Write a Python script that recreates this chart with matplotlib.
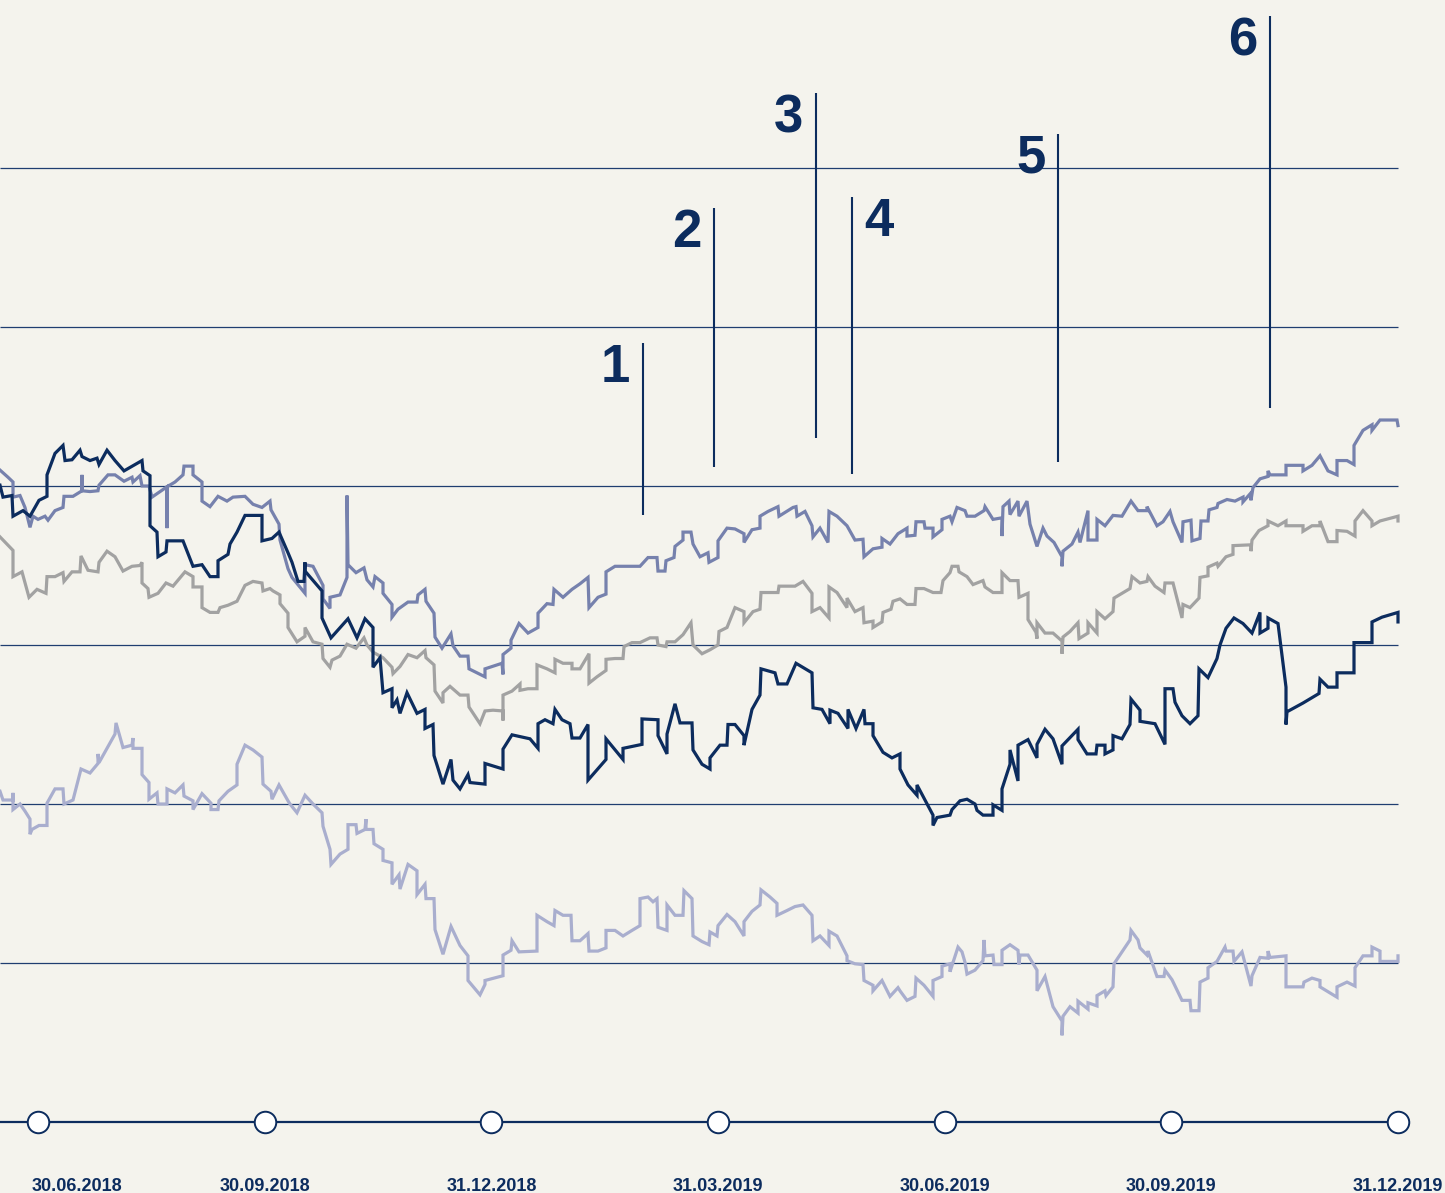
import numpy as np
import matplotlib.pyplot as plt

# day offsets from 30.06.2018 (one axis quarter = 90.67 days) and index levels
dark = [(-15.2, 120.1), (-14.0, 118.6), (-10.4, 118.8), (-10.0, 116.2), (-6.0, 116.9), (-3.2, 116.2),
        (0.4, 118.2), (3.6, 118.7), (3.6, 121.4), (6.8, 124.1), (10.0, 125.1), (10.8, 123.2),
        (13.6, 123.3), (16.8, 124.5), (17.6, 123.7), (20.8, 123.2), (23.6, 123.5), (24.4, 122.7),
        (27.6, 124.5), (30.8, 123.2), (34.4, 121.9), (41.6, 123.2), (42.0, 121.9), (44.8, 121.3),
        (44.8, 115.0), (47.6, 114.2), (48.0, 111.1), (51.2, 111.7), (51.6, 113.1), (58.0, 113.1),
        (62.0, 109.9), (65.6, 110.1), (68.8, 108.6), (72.0, 108.6), (72.0, 110.6), (76.0, 111.4),
        (76.8, 112.7), (79.6, 114.2), (82.8, 116.3), (89.6, 116.3), (89.6, 113.1), (93.6, 113.4),
        (96.4, 114.2), (100.0, 111.6), (101.6, 110.4), (104.0, 108.0), (106.4, 108.0), (106.8, 110.4),
        (106.8, 109.3), (113.6, 106.8), (113.6, 103.4), (117.2, 100.9), (124.0, 103.3), (127.6, 100.9),
        (130.8, 103.3), (134.0, 102.2), (134.0, 97.2), (136.8, 98.4), (138.0, 94.0), (141.6, 94.5),
        (141.6, 92.1), (143.6, 93.1), (144.8, 91.4), (147.6, 94.0), (151.6, 91.4), (154.8, 91.9),
        (154.8, 89.5), (158.0, 90.0), (158.4, 86.1), (162.0, 82.5), (165.2, 85.6), (166.0, 83.0),
        (168.8, 81.9), (172.0, 83.7), (172.8, 82.7), (178.8, 82.5), (178.8, 85.1), (186.0, 84.4),
        (186.0, 86.9), (189.6, 88.7), (196.8, 88.2), (200.0, 87.0), (200.0, 90.1), (202.8, 90.6),
        (206.0, 90.1), (206.8, 91.9), (209.6, 90.6), (212.8, 90.1), (213.6, 88.3), (216.8, 88.3),
        (220.0, 90.0), (220.0, 83.0), (227.2, 85.6), (227.2, 88.2), (234.0, 85.6), (234.0, 87.0),
        (241.6, 87.5), (241.6, 90.7), (248.0, 90.6), (248.0, 88.6), (251.6, 86.3), (251.6, 88.8),
        (254.8, 92.6), (256.8, 90.2), (261.6, 90.2), (262.0, 86.8), (265.6, 85.0), (268.8, 84.4),
        (268.8, 85.8), (272.8, 87.4), (275.6, 87.4), (276.0, 90.0), (278.8, 90.0), (282.4, 88.6),
        (282.4, 87.4), (285.6, 91.9), (288.8, 93.7), (289.2, 97.0), (294.8, 96.5), (296.0, 95.1),
        (299.6, 95.1), (303.2, 97.7), (309.6, 96.5), (310.0, 92.1), (313.6, 91.9), (316.8, 90.1),
        (316.8, 91.8), (320.0, 91.4), (324.0, 89.5), (324.0, 91.9), (327.2, 89.5), (330.4, 91.9),
        (330.8, 90.1), (334.0, 90.1), (334.0, 88.6), (338.0, 86.5), (341.6, 85.8), (344.8, 86.3),
        (344.8, 84.4), (348.0, 82.4), (351.6, 81.1), (351.6, 82.4), (358.0, 78.6), (358.0, 77.3),
        (359.6, 78.3), (364.8, 78.6), (365.6, 79.3), (368.8, 80.4), (371.6, 80.6), (374.8, 80.0),
        (375.6, 79.2), (378.0, 78.6), (382.0, 78.6), (382.0, 79.9), (385.6, 79.2), (385.6, 81.9),
        (388.8, 85.0), (388.8, 86.8), (392.0, 82.9), (392.0, 87.4), (396.0, 88.1), (399.6, 85.8),
        (399.6, 87.5), (402.8, 89.4), (406.0, 88.2), (409.6, 85.0), (409.6, 87.3), (416.0, 89.4),
        (416.0, 88.1), (419.6, 86.3), (423.2, 86.3), (423.6, 87.4), (426.8, 87.4), (426.8, 86.3),
        (430.0, 86.8), (430.0, 88.6), (433.6, 88.2), (436.8, 90.0), (437.2, 93.2), (440.8, 91.8),
        (440.8, 90.4), (446.8, 90.1), (450.8, 87.5), (450.8, 94.5), (454.0, 94.5), (454.8, 92.8),
        (457.6, 91.1), (460.8, 90.1), (464.0, 91.1), (464.4, 97.0), (468.0, 95.9), (471.6, 98.3),
        (472.8, 100.0), (475.2, 102.1), (478.4, 103.4), (482.0, 102.7), (485.6, 101.5), (488.8, 104.1),
        (488.8, 101.5), (492.0, 102.1), (492.0, 103.4), (496.0, 102.7), (499.2, 94.7), (499.2, 90.0),
        (499.6, 91.6), (506.0, 92.7), (512.4, 93.9), (512.8, 95.7), (516.0, 94.7), (519.6, 94.7),
        (519.6, 96.5), (526.4, 96.5), (526.4, 100.3), (533.6, 100.3), (533.6, 102.9), (537.6, 103.5),
        (544.0, 104.1), (544.0, 102.9)]

mid = [(-15.2, 122.0), (-12.0, 121.1), (-10.0, 120.5), (-10.0, 118.6), (-7.2, 118.8), (-5.2, 117.3),
       (-3.2, 114.8), (-2.0, 116.2), (0.0, 115.8), (2.8, 116.2), (4.0, 115.7), (6.8, 116.9),
       (10.0, 117.3), (10.4, 118.7), (14.0, 118.7), (17.6, 119.4), (17.6, 121.4), (17.6, 119.4),
       (20.8, 119.3), (24.0, 119.4), (24.4, 120.1), (28.0, 121.4), (30.8, 121.4), (34.4, 120.6),
       (37.6, 121.1), (38.0, 120.5), (40.8, 121.3), (41.6, 120.0), (44.4, 120.0), (45.6, 118.6),
       (51.6, 119.9), (51.6, 114.7), (51.6, 119.9), (54.8, 120.5), (58.0, 121.4), (58.4, 122.5),
       (62.0, 122.5), (62.0, 121.4), (65.6, 120.5), (65.6, 118.1), (68.8, 117.4), (72.0, 118.7),
       (75.6, 118.1), (78.0, 118.6), (82.8, 118.7), (86.0, 117.7), (89.6, 117.3), (92.8, 118.1),
       (93.2, 117.0), (96.4, 115.2), (96.8, 113.2), (100.0, 109.6), (101.6, 108.5), (106.8, 106.5),
       (106.8, 110.1), (110.0, 109.9), (114.0, 107.5), (114.0, 105.8), (116.8, 104.6), (116.8, 106.0),
       (120.8, 106.3), (123.6, 108.5), (123.6, 118.8), (124.0, 110.1), (127.2, 109.1), (130.4, 109.7),
       (131.6, 108.2), (134.0, 107.3), (134.8, 108.6), (138.0, 107.8), (138.0, 106.5), (141.6, 105.1),
       (141.6, 103.5), (144.0, 104.5), (148.0, 105.4), (151.6, 105.4), (152.0, 106.3), (154.8, 107.0),
       (155.2, 105.5), (158.4, 104.0), (158.8, 101.0), (161.6, 99.6), (165.2, 101.4), (166.0, 99.9),
       (168.8, 98.6), (172.0, 98.6), (172.4, 97.0), (178.8, 96.0), (178.8, 97.0), (185.6, 97.7),
       (186.0, 96.3), (186.0, 98.8), (189.2, 99.6), (189.2, 100.6), (192.4, 102.7), (196.0, 101.5),
       (200.0, 102.2), (200.0, 104.0), (203.6, 105.2), (206.0, 105.1), (206.4, 107.0), (210.0, 106.0),
       (213.6, 107.0), (216.8, 107.7), (220.0, 108.5), (220.4, 104.7), (224.0, 106.0), (227.2, 106.4),
       (227.2, 109.2), (230.8, 109.9), (240.8, 109.9), (244.0, 111.0), (247.6, 111.0), (248.0, 109.3),
       (250.8, 109.3), (251.2, 110.6), (254.4, 111.0), (254.8, 112.4), (258.0, 113.2), (258.0, 114.2),
       (261.2, 114.2), (262.0, 112.7), (264.8, 111.1), (268.0, 111.6), (268.4, 110.4), (272.0, 111.0),
       (272.0, 113.1), (275.6, 114.7), (278.8, 114.6), (282.4, 114.0), (282.4, 112.9), (285.6, 114.5),
       (288.8, 114.7), (288.8, 116.2), (292.0, 116.8), (296.0, 117.4), (296.4, 116.2), (302.0, 117.3),
       (303.2, 117.4), (303.6, 116.2), (306.8, 116.8), (309.6, 115.0), (310.0, 113.6), (312.8, 114.7),
       (316.0, 112.9), (316.4, 116.8), (319.6, 116.2), (323.6, 115.0), (326.8, 113.2), (330.0, 113.3),
       (330.4, 111.1), (334.0, 112.1), (337.6, 112.3), (337.6, 113.4), (340.8, 112.7), (344.0, 114.0),
       (347.6, 114.7), (347.6, 113.7), (350.8, 113.8), (351.2, 115.5), (354.4, 115.5), (354.8, 114.7),
       (358.0, 114.7), (358.0, 113.6), (361.6, 114.5), (361.6, 115.8), (364.8, 116.2), (365.6, 115.5),
       (367.6, 117.3), (370.8, 116.9), (371.6, 116.2), (374.8, 116.2), (378.4, 116.9), (378.8, 117.4),
       (382.0, 115.8), (385.6, 116.0), (385.6, 113.7), (386.0, 117.4), (388.4, 118.1), (388.8, 116.4),
       (392.0, 118.1), (392.4, 116.2), (395.6, 118.1), (396.8, 115.2), (399.6, 112.4), (402.0, 114.7),
       (403.6, 113.7), (406.4, 112.9), (409.6, 111.1), (409.6, 109.9), (410.0, 111.8), (413.6, 112.7),
       (416.0, 114.2), (416.8, 112.9), (420.0, 116.9), (420.0, 113.2), (423.6, 113.2), (423.6, 115.8),
       (426.8, 115.0), (430.0, 116.3), (433.6, 116.2), (437.2, 118.1), (440.0, 116.9), (443.6, 116.9),
       (443.6, 117.4), (447.6, 115.0), (450.0, 115.5), (452.8, 116.8), (454.0, 115.5), (457.6, 112.9),
       (458.0, 115.5), (461.2, 115.7), (461.6, 113.1), (464.8, 113.4), (465.2, 115.6), (468.0, 115.6),
       (468.4, 117.0), (471.6, 117.3), (472.0, 117.8), (475.6, 118.3), (478.8, 118.1), (482.0, 118.6),
       (482.0, 118.0), (484.8, 119.0), (485.2, 118.2), (486.0, 119.8), (488.8, 120.9), (492.0, 121.2),
       (492.0, 121.9), (492.8, 121.4), (499.2, 121.4), (499.2, 122.6), (506.0, 122.6), (506.0, 121.9),
       (509.6, 122.6), (512.8, 123.8), (516.0, 121.9), (519.6, 121.4), (519.6, 123.2), (523.6, 123.2),
       (526.4, 122.7), (526.4, 125.1), (530.0, 127.0), (533.6, 127.7), (533.6, 127.0), (536.8, 128.3),
       (543.6, 128.3), (544.0, 127.6)]

grey = [(-15.2, 113.6), (-10.0, 111.9), (-10.0, 108.6), (-6.4, 109.2), (-3.6, 106.0), (-0.4, 107.0),
        (3.2, 106.5), (3.6, 108.6), (6.8, 108.6), (10.0, 109.1), (10.4, 108.0), (13.6, 109.2),
        (16.8, 109.2), (17.2, 111.2), (20.0, 109.4), (24.0, 109.2), (24.4, 110.4), (27.6, 111.8),
        (30.8, 111.1), (34.0, 109.3), (37.6, 109.9), (40.8, 110.0), (41.6, 110.4), (41.6, 107.8),
        (44.0, 107.1), (44.4, 106.0), (48.0, 106.5), (51.2, 107.8), (54.0, 107.4), (58.8, 109.2),
        (62.0, 108.6), (62.0, 107.3), (65.6, 107.3), (65.6, 104.7), (68.8, 104.1), (72.0, 104.1),
        (72.8, 104.7), (76.0, 105.0), (79.6, 105.5), (82.8, 107.5), (86.0, 108.0), (89.6, 107.8),
        (90.0, 106.8), (92.8, 107.1), (94.0, 106.8), (96.8, 106.3), (96.8, 105.2), (100.0, 104.0),
        (100.0, 102.2), (103.6, 100.4), (106.8, 101.1), (106.8, 102.2), (110.0, 100.4), (113.6, 100.1),
        (114.0, 98.3), (116.8, 97.2), (117.6, 98.1), (120.8, 98.6), (123.6, 100.1), (127.2, 99.6),
        (130.4, 100.9), (131.6, 100.0), (134.0, 99.1), (138.0, 98.4), (141.6, 97.2), (142.0, 96.4),
        (144.8, 97.3), (148.0, 98.8), (151.6, 98.4), (154.8, 99.3), (155.2, 98.4), (158.4, 97.5),
        (158.8, 94.2), (162.0, 92.7), (162.0, 94.0), (164.8, 94.8), (168.8, 93.7), (172.0, 93.7),
        (172.4, 92.2), (176.8, 90.1), (178.8, 91.7), (182.0, 91.8), (186.0, 91.7), (186.0, 90.5),
        (186.0, 93.7), (189.6, 94.2), (192.8, 95.1), (192.8, 94.3), (196.0, 94.5), (199.6, 94.5),
        (199.6, 97.5), (203.6, 97.0), (206.8, 96.5), (206.8, 98.2), (210.0, 97.7), (213.6, 97.7),
        (213.6, 97.0), (216.8, 97.0), (220.4, 98.9), (220.4, 95.2), (223.6, 96.0), (227.2, 96.8),
        (227.2, 98.2), (230.8, 98.3), (234.0, 98.3), (234.4, 99.8), (237.6, 100.3), (240.8, 100.3),
        (244.8, 100.9), (247.6, 100.9), (248.0, 100.0), (251.2, 99.8), (251.6, 100.4), (254.8, 100.4),
        (258.0, 101.3), (261.2, 102.8), (262.0, 100.0), (265.6, 98.9), (268.8, 99.4), (272.0, 100.0),
        (272.4, 101.7), (275.6, 102.2), (278.8, 104.7), (282.4, 104.2), (282.4, 102.8), (286.0, 104.2),
        (288.8, 104.5), (289.2, 106.6), (296.0, 106.6), (296.4, 107.4), (302.8, 107.4), (306.0, 108.0),
        (309.6, 106.5), (309.6, 104.2), (312.8, 104.7), (316.4, 103.4), (316.4, 107.3), (319.6, 106.6),
        (323.6, 104.7), (323.6, 105.9), (326.8, 104.2), (330.0, 104.7), (330.4, 102.8), (334.0, 103.0),
        (334.0, 102.2), (337.6, 102.9), (338.0, 104.1), (341.2, 104.5), (342.0, 105.5), (344.8, 105.8),
        (347.6, 105.1), (350.8, 105.1), (351.2, 107.1), (354.4, 107.1), (358.0, 106.6), (361.2, 106.6),
        (362.0, 108.1), (364.8, 109.1), (365.6, 109.9), (368.0, 109.9), (368.4, 109.2), (371.6, 108.6),
        (374.0, 107.6), (378.0, 108.1), (378.8, 107.3), (382.0, 106.6), (385.6, 106.6), (385.6, 109.1),
        (388.8, 108.1), (392.0, 108.1), (392.4, 106.0), (396.0, 106.5), (396.0, 103.2), (399.2, 101.6),
        (399.6, 100.8), (399.6, 102.8), (402.8, 101.5), (406.0, 101.5), (409.6, 100.5), (409.6, 98.9),
        (410.0, 101.0), (412.8, 101.7), (416.0, 102.8), (416.4, 100.8), (420.0, 101.5), (420.0, 102.8),
        (423.6, 101.5), (423.6, 104.2), (426.8, 103.3), (430.0, 104.2), (430.4, 105.9), (436.8, 107.1),
        (437.6, 108.6), (440.8, 107.8), (443.6, 108.0), (444.0, 108.6), (446.8, 107.4), (450.4, 106.6),
        (450.8, 107.8), (454.0, 107.8), (457.6, 103.4), (458.0, 105.1), (460.8, 104.7), (464.4, 105.9),
        (464.8, 108.5), (468.0, 108.7), (468.0, 109.8), (471.6, 110.3), (472.0, 109.9), (475.2, 111.1),
        (478.0, 111.4), (478.0, 112.5), (485.2, 112.6), (485.2, 111.8), (485.6, 113.2), (488.4, 114.4),
        (492.0, 115.0), (492.0, 115.6), (496.0, 115.0), (499.2, 115.6), (499.2, 115.0), (506.0, 115.0),
        (506.0, 114.3), (509.6, 115.0), (512.8, 115.0), (512.8, 115.6), (516.0, 113.0), (519.6, 113.0),
        (519.6, 114.4), (523.6, 114.3), (526.8, 113.7), (526.8, 115.6), (530.0, 116.9), (533.6, 115.6),
        (533.6, 115.0), (536.8, 115.6), (544.0, 116.2), (544.0, 115.6)]

light = [(-15.2, 81.6), (-14.0, 80.5), (-10.0, 80.5), (-10.0, 81.4), (-10.0, 79.3), (-7.2, 80.0),
         (-5.2, 79.1), (-3.2, 78.1), (-3.2, 76.2), (-2.4, 76.8), (0.4, 77.3), (3.6, 77.3),
         (3.6, 80.1), (6.8, 81.9), (10.0, 81.9), (10.4, 80.0), (14.0, 80.5), (17.2, 84.4),
         (20.8, 83.9), (24.0, 85.1), (24.0, 86.3), (24.4, 85.2), (27.6, 87.0), (30.8, 88.8),
         (31.2, 90.2), (34.0, 87.1), (37.6, 87.4), (38.0, 88.3), (38.0, 87.0), (41.6, 87.0),
         (41.6, 83.7), (44.4, 82.7), (44.4, 80.6), (47.6, 81.4), (48.0, 80.0), (51.6, 80.0),
         (51.6, 81.9), (54.8, 81.4), (58.0, 82.4), (58.4, 81.0), (62.0, 80.4), (62.0, 79.3),
         (65.6, 81.3), (69.2, 80.1), (69.2, 79.3), (72.0, 79.3), (72.4, 80.4), (76.0, 81.6),
         (79.6, 82.4), (79.6, 85.0), (82.8, 87.4), (86.0, 86.8), (89.6, 85.9), (90.0, 82.5),
         (93.2, 81.6), (93.6, 80.6), (96.4, 82.4), (100.0, 80.4), (100.8, 80.0), (103.6, 78.9),
         (106.8, 81.1), (110.0, 80.0), (113.6, 78.9), (114.0, 77.2), (116.8, 74.3), (117.2, 72.4),
         (120.8, 73.7), (124.0, 74.3), (124.0, 77.4), (127.2, 77.4), (127.6, 76.3), (130.8, 76.8),
         (131.2, 78.1), (131.2, 76.8), (134.0, 76.8), (134.4, 75.0), (138.0, 74.3), (138.0, 72.9),
         (141.6, 72.6), (141.6, 69.9), (144.4, 71.1), (144.8, 69.3), (148.0, 72.4), (151.6, 71.6),
         (151.6, 68.6), (154.8, 69.9), (155.2, 68.1), (158.4, 68.1), (158.8, 64.2), (162.0, 61.1),
         (165.2, 64.6), (168.8, 62.2), (172.0, 60.9), (172.0, 57.8), (176.8, 56.0), (178.8, 57.3),
         (178.8, 57.8), (186.0, 58.4), (186.0, 61.0), (189.2, 61.6), (189.6, 62.8), (192.4, 61.4),
         (199.6, 61.5), (199.6, 66.0), (203.6, 65.2), (206.4, 64.7), (206.8, 66.6), (210.0, 66.0),
         (213.2, 66.0), (213.6, 62.8), (216.8, 62.8), (220.0, 63.7), (220.4, 61.5), (224.0, 61.5),
         (227.2, 61.9), (227.2, 64.1), (230.8, 64.1), (234.0, 63.4), (237.6, 64.1), (240.8, 64.7),
         (240.8, 68.1), (244.0, 68.3), (246.0, 67.7), (247.6, 68.1), (248.0, 64.5), (251.6, 64.1),
         (251.6, 67.3), (254.8, 66.0), (258.0, 66.0), (258.4, 69.1), (261.6, 68.1), (262.0, 63.4),
         (265.6, 62.7), (268.4, 62.3), (268.8, 63.9), (271.6, 63.4), (272.0, 64.7), (275.6, 66.1),
         (278.8, 65.2), (282.4, 63.4), (282.4, 65.2), (285.6, 66.5), (288.8, 67.3), (289.2, 69.2),
         (292.8, 68.3), (295.6, 67.5), (295.6, 66.0), (299.6, 66.6), (302.8, 67.1), (306.0, 67.3),
         (309.6, 66.0), (310.0, 62.8), (312.8, 63.4), (316.4, 62.2), (316.4, 64.0), (319.6, 63.4),
         (323.6, 60.9), (323.6, 60.3), (326.8, 59.9), (330.0, 59.8), (330.4, 57.8), (334.0, 57.2),
         (334.0, 56.5), (337.6, 57.8), (340.8, 55.8), (344.0, 56.9), (344.8, 56.5), (347.6, 55.3),
         (350.8, 55.8), (351.2, 58.1), (354.4, 57.2), (358.0, 55.8), (358.0, 57.8), (361.6, 58.3),
         (361.6, 59.6), (364.8, 59.9), (364.8, 58.9), (368.0, 62.0), (369.6, 61.4), (370.8, 60.1),
         (371.6, 58.6), (374.8, 59.1), (378.0, 60.3), (378.4, 62.9), (378.8, 60.9), (382.0, 61.0),
         (382.4, 59.8), (385.6, 59.8), (385.6, 61.6), (388.8, 62.3), (392.0, 61.6), (392.4, 59.8),
         (392.8, 61.0), (396.0, 61.0), (399.6, 59.1), (399.6, 56.5), (402.8, 58.3), (406.0, 54.5),
         (409.6, 52.7), (409.6, 50.9), (410.0, 53.3), (412.8, 54.5), (416.0, 53.7), (416.0, 55.2),
         (420.0, 54.2), (420.0, 55.0), (423.6, 54.6), (423.6, 55.9), (426.8, 56.5), (427.2, 55.9),
         (430.0, 57.0), (430.4, 59.9), (436.8, 62.9), (437.2, 64.1), (440.0, 62.9), (440.8, 61.9),
         (443.6, 61.0), (444.0, 61.5), (447.6, 58.3), (450.4, 58.3), (450.8, 59.1), (453.6, 57.9),
         (457.6, 55.3), (460.8, 55.3), (461.2, 54.0), (464.4, 54.0), (464.8, 57.6), (468.0, 58.1),
         (468.0, 59.4), (471.6, 60.2), (474.8, 62.0), (475.2, 61.5), (478.0, 61.5), (478.4, 60.2),
         (481.6, 61.4), (485.2, 57.1), (485.6, 58.4), (488.8, 60.7), (492.0, 60.6), (492.0, 61.5),
         (492.8, 60.7), (499.2, 60.9), (499.2, 57.0), (506.0, 57.0), (506.4, 57.6), (509.6, 58.1),
         (512.8, 57.8), (512.8, 57.0), (519.6, 55.7), (519.6, 57.0), (523.6, 57.6), (526.8, 57.1),
         (526.8, 59.4), (530.0, 60.9), (533.6, 60.9), (533.6, 62.0), (536.8, 61.5), (536.8, 60.2),
         (544.0, 60.2), (544.0, 60.9)]

quarter_labels = ['30.06.2018', '30.09.2018', '31.12.2018', '31.03.2019',
                  '30.06.2019', '30.09.2019', '31.12.2019']
QUARTER = 90.67
grid_levels = [60, 80, 100, 120, 140, 160]

event_labels = ['1', '2', '3', '4', '5', '6']
event_days = [242.0, 270.4, 311.2, 325.6, 408.0, 492.8]
event_top = [138.0, 155.0, 169.4, 156.4, 164.3, 179.1]
event_bottom = [116.4, 122.4, 126.0, 121.5, 123.0, 129.8]

BG = '#f4f3ed'
NAVY = '#0c2c5e'
TIMELINE_LEVEL = 40
LABEL_LEVEL = 31.3

fig = plt.figure(figsize=(14.45, 11.93), dpi=100, facecolor=BG)
ax = fig.add_axes([0, 0, 1, 1])
ax.set_facecolor(BG)
ax.set_xlim(-15.2, 562.8)
ax.set_ylim(31.07, 181.13)
ax.axis('off')

end_day = QUARTER * 6
ax.hlines(grid_levels, -15.2, end_day, color='#1f3d70', lw=0.9, zorder=1)

for series, color in [(light, '#a9aece'), (grey, '#a2a2a2'), (mid, '#7681ad'), (dark, NAVY)]:
    days, vals = zip(*series)
    ax.plot(days, vals, color=color, lw=2.3, solid_joinstyle='miter', zorder=3)

# event markers
ax.vlines(event_days, event_bottom, event_top, color=NAVY, lw=1.5, zorder=4)
for lab, d, top in zip(event_labels, event_days, event_top):
    if lab == '4':
        off, ha = (9, 0), 'left'
    else:
        off, ha = (-9, 0), 'right'
    ax.annotate(lab, (d, top), xytext=off, textcoords='offset points', ha=ha, va='top',
                fontsize=38, fontweight='bold', color=NAVY, family='Liberation Sans')

# timeline
ticks = np.arange(len(quarter_labels)) * QUARTER
ax.plot([-15.2, end_day], [TIMELINE_LEVEL, TIMELINE_LEVEL], color=NAVY, lw=1.6, zorder=4)
ax.plot(ticks, [TIMELINE_LEVEL] * len(ticks), 'o', ms=15.5, mfc='white', mec=NAVY, mew=1.4, zorder=5)
for i, (t, lab) in enumerate(zip(ticks, quarter_labels)):
    if i == 0:
        ax.text(t - 2.4, LABEL_LEVEL, lab, ha='left', va='baseline', fontsize=13,
                fontweight='bold', color=NAVY, family='Liberation Sans')
    else:
        ax.text(t, LABEL_LEVEL, lab, ha='center', va='baseline', fontsize=13,
                fontweight='bold', color=NAVY, family='Liberation Sans')

fig.savefig('out.png', dpi=100, facecolor=BG)
